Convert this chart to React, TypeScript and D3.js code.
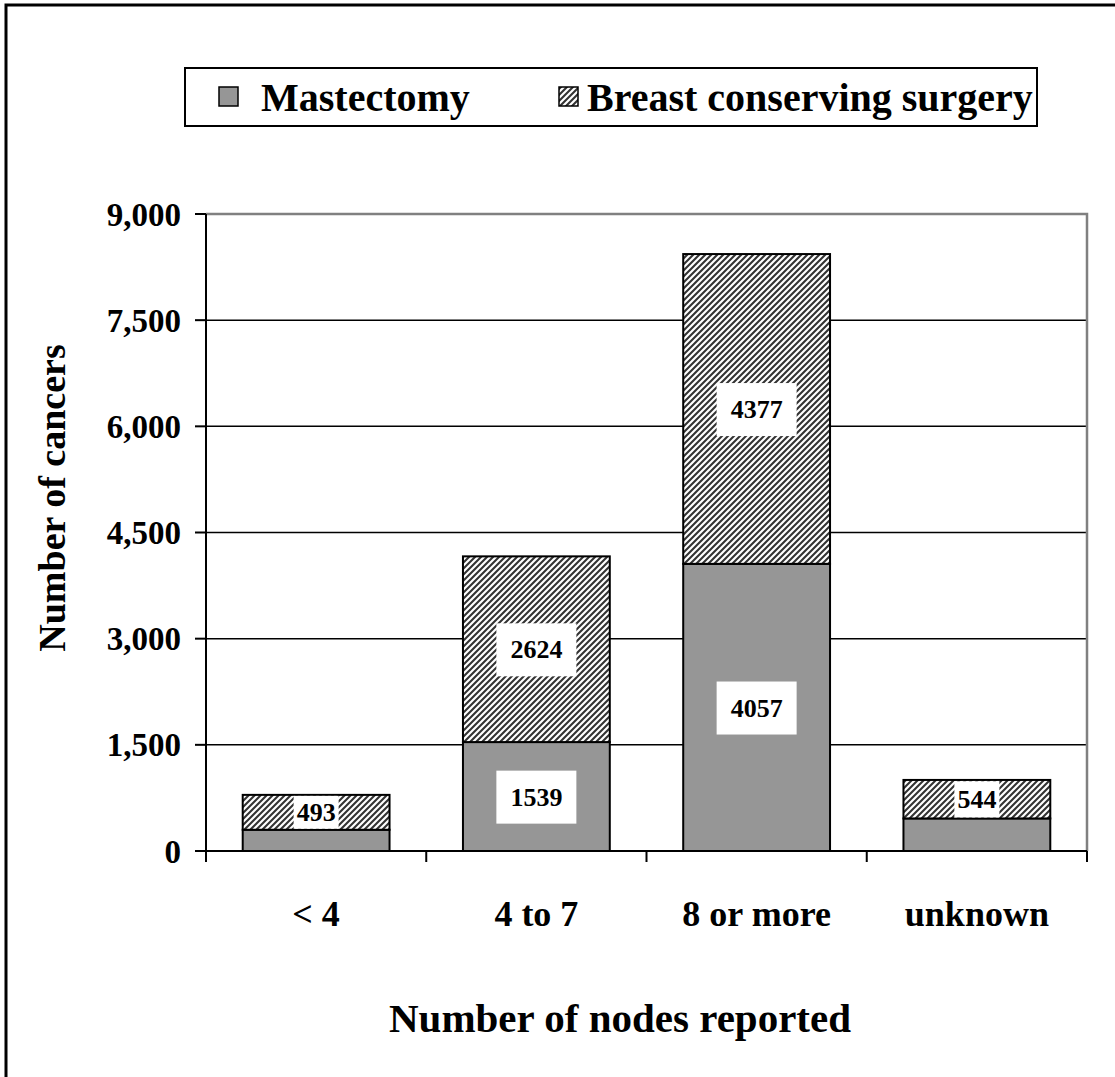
import { useEffect, useRef } from 'react';
import * as d3 from 'd3';

const categories = ['< 4', '4 to 7', '8 or more', 'unknown'];
const mastectomy = [300, 1539, 4057, 460];
const breastConserving = [493, 2624, 4377, 544];
const mastectomyLabelled = [false, true, true, false];
const breastLabelled = [true, true, true, true];
const yTicks = [0, 1500, 3000, 4500, 6000, 7500, 9000];
const seriesNames = ['Mastectomy', 'Breast conserving surgery'];

const FONT = "'Liberation Serif', Tinos, 'Times New Roman', 'DejaVu Serif', serif";

export default function App() {
  const svgRef = useRef<SVGSVGElement | null>(null);

  useEffect(() => {
    document.body.style.margin = '0';
    const svgElement = svgRef.current;
    if (!svgElement) {
      return;
    }

    const svg = d3.select(svgElement);
    svg.selectAll('*').remove();

    const width = 1115;
    const height = 1077;
    const plot = { left: 206, right: 1087, top: 214, bottom: 851 };

    svg.attr('width', width).attr('height', height).attr('viewBox', `0 0 ${width} ${height}`).style('font-family', FONT);

    const defs = svg.append('defs');
    const pattern = defs
      .append('pattern')
      .attr('id', 'hatch')
      .attr('patternUnits', 'userSpaceOnUse')
      .attr('width', 6)
      .attr('height', 6);
    pattern.append('rect').attr('width', 6).attr('height', 6).attr('fill', '#ffffff');
    pattern
      .append('path')
      .attr('d', 'M-1,1 l2,-2 M0,6 l6,-6 M5,7 l2,-2')
      .attr('stroke', '#333')
      .attr('stroke-width', 2.1);

    svg.append('rect').attr('width', width).attr('height', height).attr('fill', '#ffffff');

    // outer chart frame (runs off the right and bottom edges)
    svg
      .append('rect')
      .attr('x', 6)
      .attr('y', 5)
      .attr('width', 1130)
      .attr('height', 1100)
      .attr('fill', 'none')
      .attr('stroke', '#000')
      .attr('stroke-width', 3);

    const x = d3
      .scaleBand<string>()
      .domain(categories)
      .range([plot.left, plot.right])
      .paddingInner(1 / 3)
      .paddingOuter(1 / 6);
    const y = d3.scaleLinear().domain([0, 9000]).range([plot.bottom, plot.top]);

    // gridlines
    svg
      .append('g')
      .selectAll('line')
      .data(yTicks.filter((t) => t > 0 && t < 9000))
      .join('line')
      .attr('x1', plot.left)
      .attr('x2', plot.right)
      .attr('y1', (d) => y(d))
      .attr('y2', (d) => y(d))
      .attr('stroke', '#000')
      .attr('stroke-width', 1.5);

    // plot area top/right border
    svg
      .append('path')
      .attr('d', `M${plot.left},${y(9000)} H${plot.right} V${plot.bottom}`)
      .attr('fill', 'none')
      .attr('stroke', '#808080')
      .attr('stroke-width', 2.5);

    const rows = categories.map((c, i) => ({
      category: c,
      mast: mastectomy[i],
      bcs: breastConserving[i],
      mastLabel: mastectomyLabelled[i],
      bcsLabel: breastLabelled[i],
    }));

    const bars = svg.append('g');
    bars
      .selectAll('rect.mast')
      .data(rows)
      .join('rect')
      .attr('class', 'mast')
      .attr('x', (d) => x(d.category)!)
      .attr('width', x.bandwidth())
      .attr('y', (d) => y(d.mast))
      .attr('height', (d) => y(0) - y(d.mast))
      .attr('fill', '#969696')
      .attr('stroke', '#000')
      .attr('stroke-width', 2);
    bars
      .selectAll('rect.bcs')
      .data(rows)
      .join('rect')
      .attr('class', 'bcs')
      .attr('x', (d) => x(d.category)!)
      .attr('width', x.bandwidth())
      .attr('y', (d) => y(d.mast + d.bcs))
      .attr('height', (d) => y(d.mast) - y(d.mast + d.bcs))
      .attr('fill', 'url(#hatch)')
      .attr('stroke', '#000')
      .attr('stroke-width', 2);

    // axes
    svg
      .append('line')
      .attr('x1', plot.left)
      .attr('x2', plot.left)
      .attr('y1', plot.top)
      .attr('y2', plot.bottom)
      .attr('stroke', '#000')
      .attr('stroke-width', 2);
    svg
      .append('line')
      .attr('x1', plot.left)
      .attr('x2', plot.right)
      .attr('y1', plot.bottom)
      .attr('y2', plot.bottom)
      .attr('stroke', '#000')
      .attr('stroke-width', 2);

    const yAxis = svg.append('g');
    yAxis
      .selectAll('line')
      .data(yTicks)
      .join('line')
      .attr('x1', plot.left - 11)
      .attr('x2', plot.left)
      .attr('y1', (d) => y(d))
      .attr('y2', (d) => y(d))
      .attr('stroke', '#000')
      .attr('stroke-width', 2);
    yAxis
      .selectAll('text')
      .data(yTicks)
      .join('text')
      .attr('x', plot.left - 25)
      .attr('y', (d) => y(d))
      .attr('dy', '0.35em')
      .attr('text-anchor', 'end')
      .attr('font-weight', 'bold')
      .attr('font-size', 33)
      .text((d) => d3.format(',')(d));

    const boundaries = [plot.left, ...categories.map((c) => x(c)! + x.bandwidth() + (x.step() - x.bandwidth()) / 2)];
    const xAxis = svg.append('g');
    xAxis
      .selectAll('line')
      .data(boundaries)
      .join('line')
      .attr('x1', (d) => d)
      .attr('x2', (d) => d)
      .attr('y1', plot.bottom)
      .attr('y2', plot.bottom + 11)
      .attr('stroke', '#000')
      .attr('stroke-width', 2);
    xAxis
      .selectAll('text')
      .data(categories)
      .join('text')
      .attr('x', (d) => x(d)! + x.bandwidth() / 2)
      .attr('y', 913)
      .attr('dy', '0.35em')
      .attr('text-anchor', 'middle')
      .attr('font-weight', 'bold')
      .attr('font-size', 36)
      .text((d) => d);

    // data labels, white boxes kept inside their segment
    type Label = { x: number; y: number; top: number; bottom: number; text: string };
    const labels: Label[] = [];
    rows.forEach((d) => {
      const cx = x(d.category)! + x.bandwidth() / 2;
      if (d.mastLabel) {
        labels.push({ x: cx, y: (y(0) + y(d.mast)) / 2, top: y(d.mast), bottom: y(0), text: String(d.mast) });
      }
      if (d.bcsLabel) {
        labels.push({
          x: cx,
          y: (y(d.mast) + y(d.mast + d.bcs)) / 2,
          top: y(d.mast + d.bcs),
          bottom: y(d.mast),
          text: String(d.bcs),
        });
      }
    });
    const labelGroups = svg.append('g').selectAll('g').data(labels).join('g');
    labelGroups
      .append('text')
      .attr('x', (d) => d.x)
      .attr('y', (d) => d.y)
      .attr('dy', '0.35em')
      .attr('text-anchor', 'middle')
      .attr('font-weight', 'bold')
      .attr('font-size', 26)
      .text((d) => d.text);
    labelGroups.each(function (d) {
      const g = d3.select(this);
      const box = (g.select('text').node() as SVGTextElement).getBBox();
      const roomy = d.bottom - d.top > 80;
      const padX = roomy ? 14 : 3;
      const padY = roomy ? 12 : 4;
      const top = Math.max(d.top + 1, box.y - padY);
      const bottom = Math.min(d.bottom - 1, box.y + box.height + padY);
      g.insert('rect', 'text')
        .attr('x', box.x - padX)
        .attr('y', top)
        .attr('width', box.width + padX * 2)
        .attr('height', bottom - top)
        .attr('fill', '#ffffff');
    });

    // axis titles
    svg
      .append('text')
      .attr('transform', `translate(52,498) rotate(-90)`)
      .attr('dy', '0.35em')
      .attr('text-anchor', 'middle')
      .attr('font-weight', 'bold')
      .attr('font-size', 38)
      .text('Number of cancers');
    svg
      .append('text')
      .attr('x', 620)
      .attr('y', 1018)
      .attr('dy', '0.35em')
      .attr('text-anchor', 'middle')
      .attr('font-weight', 'bold')
      .attr('font-size', 41)
      .text('Number of nodes reported');

    // legend
    const legend = svg.append('g');
    legend
      .append('rect')
      .attr('x', 185)
      .attr('y', 68)
      .attr('width', 852)
      .attr('height', 58)
      .attr('fill', '#ffffff')
      .attr('stroke', '#000')
      .attr('stroke-width', 2);
    const legendItems = [
      { name: seriesNames[0], fill: '#969696', sx: 219, tx: 261 },
      { name: seriesNames[1], fill: 'url(#hatch)', sx: 559, tx: 587 },
    ];
    legend
      .selectAll('rect.swatch')
      .data(legendItems)
      .join('rect')
      .attr('class', 'swatch')
      .attr('x', (d) => d.sx)
      .attr('y', 87)
      .attr('width', 19)
      .attr('height', 19)
      .attr('fill', (d) => d.fill)
      .attr('stroke', '#000')
      .attr('stroke-width', 1.5);
    legend
      .selectAll('text')
      .data(legendItems)
      .join('text')
      .attr('x', (d) => d.tx)
      .attr('y', 97)
      .attr('dy', '0.35em')
      .attr('font-weight', 'bold')
      .attr('font-size', 40)
      .text((d) => d.name);
  }, []);

  return <svg ref={svgRef} style={{ display: 'block' }} />;
}
